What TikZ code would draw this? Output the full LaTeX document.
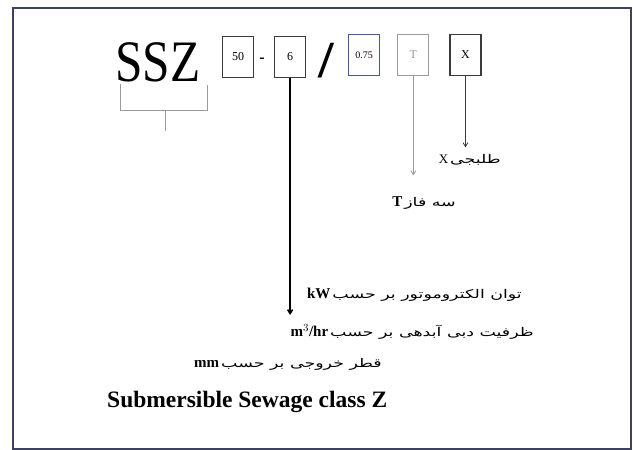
\documentclass[tikz,border=0pt]{standalone}
\usepackage{fontspec}
\setmainfont{Liberation Serif}
\newfontfamily\fa[Script=Arabic]{DejaVu Sans}
\TeXXeTstate=1
\usetikzlibrary{positioning,arrows.meta}
\definecolor{frameblue}{HTML}{3E4260}
\definecolor{boxgray}{HTML}{3A3A3A}
\definecolor{lightgray}{HTML}{9A9A9A}
\definecolor{steel}{HTML}{4A5A86}
\newcommand{\wide}[1]{\scalebox{1.45}[1]{#1}}

\begin{document}
\begin{tikzpicture}[x=1pt, y=-1pt, node distance=4mm and 5mm,
  code/.style={draw=boxgray, line width=1.1pt, minimum width=31pt, minimum height=41pt, inner sep=0pt, font=\fontsize{12}{12}\selectfont},
  lbl/.style={inner sep=1pt, font=\fontsize{12}{14}\fa},
  arr/.style={-{Straight Barb[length=4pt, width=5pt]}},
  lat/.style={font=\fontsize{23.5}{26}\selectfont\bfseries}]
  \useasboundingbox (0,0) rectangle (633,450);
  \draw[frameblue, line width=2pt] (13,8) rectangle (631,449);
  % model code
  \node[inner sep=0pt] (ssz) at (158,62) {\scalebox{1.05}[1.25]{\fontsize{47}{47}\selectfont SSZ}};
  \node[code] (b50) at (238,57) {50};
  \node[code, right=20pt of b50] (b6) {6};
  \node[inner sep=0pt, font=\fontsize{16}{16}\selectfont\bfseries] (dsh) at (262,60) {-};
  \node[inner sep=0pt] (sl) at (326,61) {\scalebox{1.4}[1.3]{\fontsize{40}{40}\selectfont\bfseries /}};
  \node[code, draw=steel, line width=1.6pt, font=\fontsize{10}{10}\selectfont] (bkw) at (364,55) {0.75};
  \node[code, draw=lightgray, text=lightgray, right=17pt of bkw] (bT) {T};
  \node[code, right=20pt of bT] (bX) {X};
  % brace under SSZ
  \draw[lightgray, line width=0.8pt] (120,84) -- (120,110) -- (207,110) -- (207,85);
  \draw[lightgray, line width=0.8pt] (165,110) -- (165,131);
  % labels
  \node[lbl, anchor=east] (lx) at (502,160) {{\fontsize{13}{13}\rmfamily X}\,\wide{\beginR طلبجی\endR}};
  \node[lbl, anchor=east] (lt) at (457,203) {{\fontsize{15}{15}\rmfamily\bfseries T}\,\wide{\beginR سه فاز\endR}};
  \node[lbl, anchor=east] (lp) at (523,295) {{\fontsize{15}{15}\rmfamily\bfseries kW}\,\wide{\beginR توان الکتروموتور بر حسب\endR}};
  \node[lbl, anchor=east] (lq) at (535,332) {{\fontsize{15}{15}\rmfamily\bfseries m$^3$/hr}\,\wide{\beginR ظرفیت دبی آبدهی بر حسب\endR}};
  \node[lbl, anchor=east] (ld) at (383,364) {{\fontsize{15}{15}\rmfamily\bfseries mm}\,\wide{\beginR قطر خروجی بر حسب\endR}};
  \node[lat, anchor=west, inner sep=0pt] (ls) at (107,402) {Submersible Sewage class Z};
  % connectors
  \draw[arr, line width=1.5pt] (b6.south) -- (b6.south |- 0,315);
  \draw[arr, lightgray, line width=0.8pt, shorten >=20pt] (bT.south) -- (bT.south |- lt.north);
  \draw[arr, boxgray, line width=0.8pt, shorten >=6pt] (bX.south) -- (bX.south |- lx.north);
\end{tikzpicture}
\end{document}
